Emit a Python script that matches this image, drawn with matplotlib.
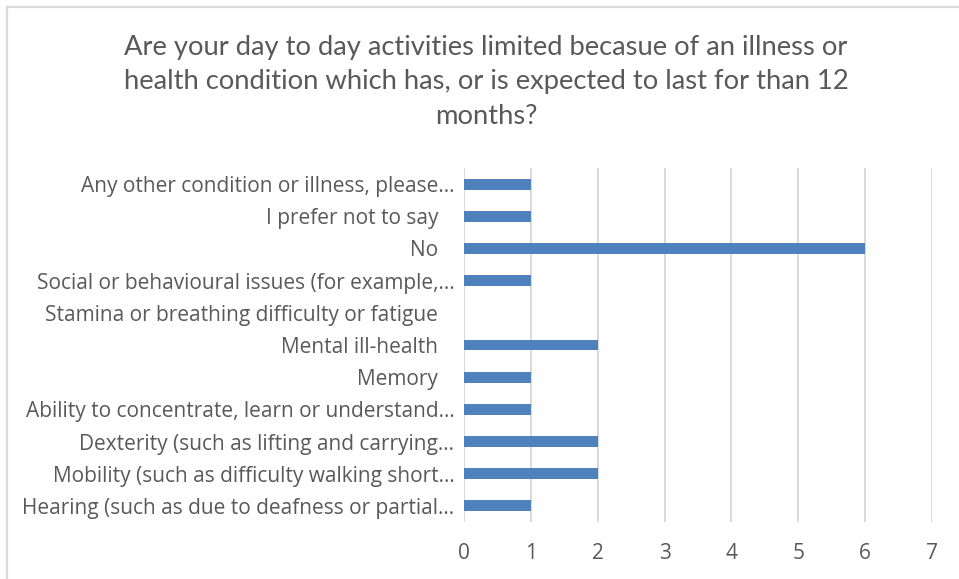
import matplotlib
matplotlib.use("Agg")
import matplotlib.pyplot as plt
from matplotlib.lines import Line2D

title = ("Are your day to day activities limited becasue of an illness or\n"
         "health condition which has, or is expected to last for than 12\n"
         "months?")

categories = [
    "Hearing (such as due to deafness or partial\u2026",
    "Mobility (such as difficulty walking short\u2026",
    "Dexterity (such as lifting and carrying\u2026",
    "Ability to concentrate, learn or understand\u2026",
    "Memory   ",
    "Mental ill-health   ",
    "Stamina or breathing difficulty or fatigue   ",
    "Social or behavioural issues (for example,\u2026",
    "No   ",
    "I prefer not to say   ",
    "Any other condition or illness, please\u2026",
]
values = [1, 2, 2, 1, 1, 2, 0, 1, 6, 1, 1]
x_ticks = [0, 1, 2, 3, 4, 5, 6, 7]

W, H = 959, 579
fig = plt.figure(figsize=(W / 100, H / 100), dpi=100)
fig.patch.set_facecolor("white")

# chart frame (top and left edges visible)
fig.add_artist(Line2D([7 / W, 7 / W], [0, 1 - 7 / H], transform=fig.transFigure,
                      color="#D9D9D9", lw=1.6))
fig.add_artist(Line2D([7 / W, 1], [1 - 7 / H, 1 - 7 / H], transform=fig.transFigure,
                      color="#D9D9D9", lw=1.6))

ax = fig.add_axes([464 / W, 1 - 522 / H, (932 - 464) / W, (522 - 168) / H])
y = list(range(len(categories)))
ax.barh(y, values, height=0.34, color="#4F81BD", linewidth=0, zorder=3)
ax.set_xlim(0, 7)
ax.set_ylim(-0.5, len(categories) - 0.5)
ax.set_xticks(x_ticks)
ax.set_xticklabels([str(t) for t in x_ticks], fontsize=15, color="#595959",
                   family="Open Sans")
ax.set_yticks(y)
ax.set_yticklabels(categories, fontsize=15, color="#595959", family="Open Sans")
ax.tick_params(axis="both", length=0)
ax.tick_params(axis="x", pad=15)
ax.tick_params(axis="y", pad=7)
for s in ax.spines.values():
    s.set_visible(False)
ax.grid(axis="x", color="#D9D9D9", linewidth=1.4, zorder=0)
ax.set_axisbelow(True)

fig.text(486 / W, 1 - 82 / H, title, ha="center", va="center", fontsize=19.7,
         color="#595959", family="Lato", linespacing=1.48)

fig.savefig("out.png", dpi=100)
